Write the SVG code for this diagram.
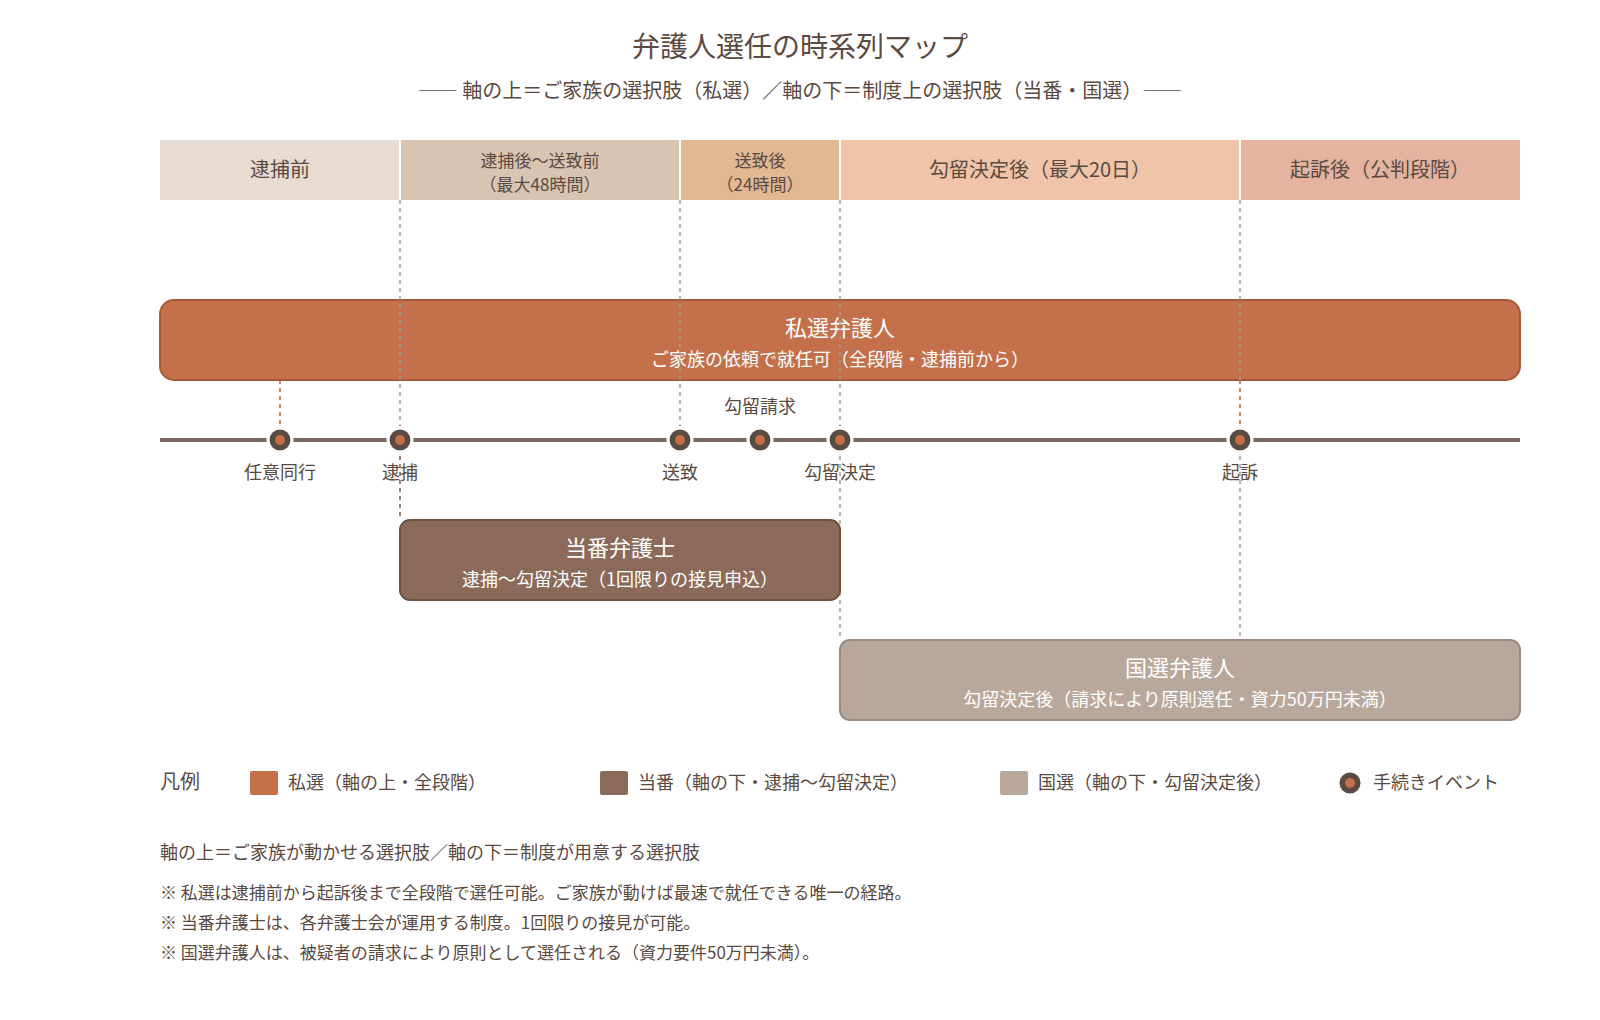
<svg xmlns="http://www.w3.org/2000/svg" width="1600" height="1020" viewBox="0 0 1600 1020">
<style>
text{font-family:"Noto Sans CJK JP","Noto Sans",sans-serif;fill:#5a4a42}
.c{text-anchor:middle}
.band{font-size:20px}
.bsm{font-size:17px}
.w{fill:#fff}
.ev{font-size:18px}
.g{stroke:#a89a92;stroke-width:1.5;stroke-dasharray:4 4;fill:none}
.o{stroke:#b8603a;stroke-width:1.5;stroke-dasharray:4 4;fill:none}
.b{stroke:#7a5a4a;stroke-width:1.5;stroke-dasharray:4 4;fill:none}
.leg{font-size:18px}
.note{font-size:17px}
</style>
<defs>
<g id="evt"><circle r="12" fill="#5a4a42" stroke="#fff" stroke-width="3"/><circle r="5" fill="#c4714b"/></g>
</defs>
<rect width="1600" height="1020" fill="#fff"/>
<text x="800" y="57" class="c" font-size="28">弁護人選任の時系列マップ</text>
<text x="800" y="98" class="c" font-size="20">―― 軸の上＝ご家族の選択肢（私選）／軸の下＝制度上の選択肢（当番・国選）――</text>
<g id="bands">
<rect x="160" y="140" width="240" height="60" fill="#e8dcd2"/>
<rect x="400" y="140" width="280" height="60" fill="#d9c4b2"/>
<rect x="680" y="140" width="160" height="60" fill="#e2b892"/>
<rect x="840" y="140" width="400" height="60" fill="#f0c4a8"/>
<rect x="1240" y="140" width="280" height="60" fill="#e4b4a0"/>
<g stroke="#fff" stroke-width="2"><line x1="400" y1="140" x2="400" y2="200"/><line x1="680" y1="140" x2="680" y2="200"/><line x1="840" y1="140" x2="840" y2="200"/><line x1="1240" y1="140" x2="1240" y2="200"/></g>
<text x="280" y="177" class="c band">逮捕前</text>
<text x="540" y="167" class="c bsm">逮捕後～送致前</text>
<text x="540" y="191" class="c bsm">（最大48時間）</text>
<text x="760" y="167" class="c bsm">送致後</text>
<text x="760" y="191" class="c bsm">（24時間）</text>
<text x="1040" y="177" class="c band">勾留決定後（最大20日）</text>
<text x="1380" y="177" class="c band">起訴後（公判段階）</text>
</g>
<g id="private">
<rect x="160" y="300" width="1360" height="80" rx="14" fill="#c4714b" stroke="#a85a38" stroke-width="2"/>
<text x="840" y="336" class="c w" font-size="22">私選弁護人</text>
<text x="840" y="366" class="c w" font-size="18">ご家族の依頼で就任可（全段階・逮捕前から）</text>
</g>
<g id="connectors">
<line class="g" x1="400" y1="200" x2="400" y2="440"/>
<line class="g" x1="680" y1="200" x2="680" y2="440"/>
<line class="g" x1="840" y1="200" x2="840" y2="640"/>
<line class="g" x1="1240" y1="200" x2="1240" y2="380"/>
<line class="o" x1="280" y1="380" x2="280" y2="440"/>
<line class="o" x1="1240" y1="380" x2="1240" y2="440"/>
<line class="b" x1="400" y1="440" x2="400" y2="520"/>
<line class="g" x1="1240" y1="440" x2="1240" y2="640"/>
<line x1="160" y1="440" x2="1520" y2="440" stroke="#7a6a62" stroke-width="4"/>
</g>
<g id="events">
<use href="#evt" x="280" y="440"/><use href="#evt" x="400" y="440"/><use href="#evt" x="680" y="440"/>
<use href="#evt" x="760" y="440"/><use href="#evt" x="840" y="440"/><use href="#evt" x="1240" y="440"/>
<text x="280" y="479" class="c ev">任意同行</text>
<text x="400" y="479" class="c ev">逮捕</text>
<text x="680" y="479" class="c ev">送致</text>
<text x="760" y="413" class="c ev">勾留請求</text>
<text x="840" y="479" class="c ev">勾留決定</text>
<text x="1240" y="479" class="c ev">起訴</text>
</g>
<g id="touban">
<rect x="400" y="520" width="440" height="80" rx="10" fill="#8b6a5a" stroke="#6e5244" stroke-width="2"/>
<text x="620" y="556" class="c w" font-size="22">当番弁護士</text>
<text x="620" y="586" class="c w" font-size="18">逮捕～勾留決定（1回限りの接見申込）</text>
</g>
<g id="kokusen">
<rect x="840" y="640" width="680" height="80" rx="10" fill="#b8a89c" stroke="#9a8a80" stroke-width="2"/>
<text x="1180" y="676" class="c w" font-size="22">国選弁護人</text>
<text x="1180" y="706" class="c w" font-size="18">勾留決定後（請求により原則選任・資力50万円未満）</text>
</g>
<g id="legend">
<text x="160" y="789" font-size="20">凡例</text>
<rect x="250" y="771" width="28" height="24" rx="2" fill="#c4714b"/>
<text x="288" y="789" class="leg">私選（軸の上・全段階）</text>
<rect x="600" y="771" width="28" height="24" rx="2" fill="#8b6a5a"/>
<text x="638" y="789" class="leg">当番（軸の下・逮捕～勾留決定）</text>
<rect x="1000" y="771" width="28" height="24" rx="2" fill="#b8a89c"/>
<text x="1038" y="789" class="leg">国選（軸の下・勾留決定後）</text>
<use href="#evt" x="1350" y="783"/>
<text x="1373" y="789" class="leg">手続きイベント</text>
</g>
<g id="notes">
<text x="160" y="859" font-size="18">軸の上＝ご家族が動かせる選択肢／軸の下＝制度が用意する選択肢</text>
<text x="160" y="899" class="note">※ 私選は逮捕前から起訴後まで全段階で選任可能。ご家族が動けば最速で就任できる唯一の経路。</text>
<text x="160" y="929" class="note">※ 当番弁護士は、各弁護士会が運用する制度。1回限りの接見が可能。</text>
<text x="160" y="959" class="note">※ 国選弁護人は、被疑者の請求により原則として選任される（資力要件50万円未満）。</text>
</g>
</svg>
